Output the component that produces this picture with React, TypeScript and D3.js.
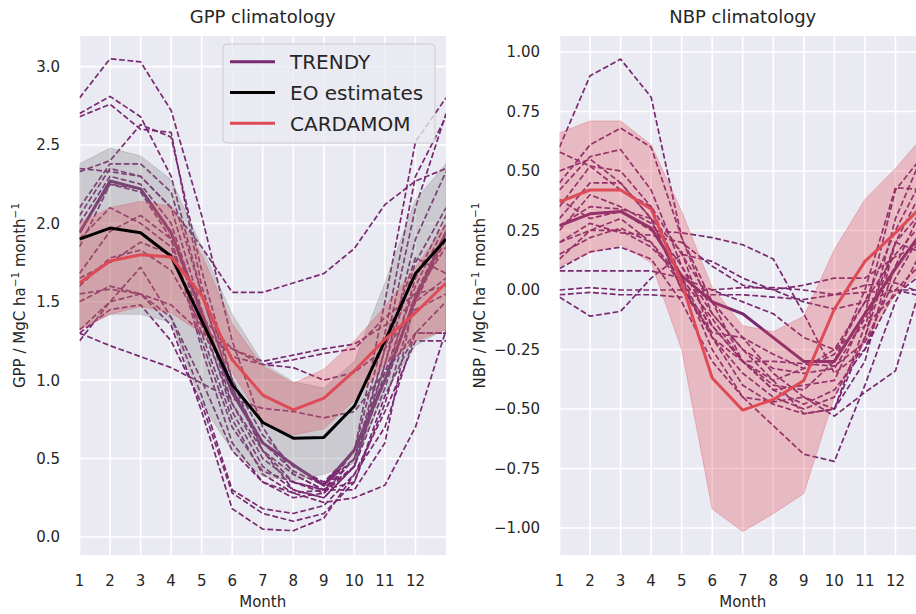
import React from 'react';
import * as d3 from 'd3';

// ---------- data ----------
const months = [1, 2, 3, 4, 5, 6, 7, 8, 9, 10, 11, 12];
const gppTicks = [0, 0.5, 1.0, 1.5, 2.0, 2.5, 3.0];
const nbpTicks = [-1.0, -0.75, -0.5, -0.25, 0, 0.25, 0.5, 0.75, 1.0];

// GPP climatology
const gppEO = [1.90, 1.97, 1.94, 1.79, 1.38, 0.97, 0.73, 0.63, 0.635, 0.835, 1.25, 1.68];
const gppEOLow = [1.33, 1.42, 1.42, 1.37, 0.85, 0.55, 0.385, 0.36, 0.40, 0.47, 0.92, 1.22];
const gppEOHigh = [2.38, 2.48, 2.43, 2.28, 1.85, 1.42, 1.11, 0.99, 0.95, 1.12, 1.62, 2.15];
const gppCardamom = [1.62, 1.76, 1.80, 1.785, 1.54, 1.13, 0.905, 0.81, 0.885, 1.06, 1.26, 1.43];
const gppCardamomLow = [1.32, 1.42, 1.47, 1.43, 1.30, 1.05, 0.73, 0.65, 0.69, 0.87, 1.10, 1.25];
const gppCardamomHigh = [2.00, 2.10, 2.14, 2.11, 1.80, 1.36, 1.09, 0.98, 1.07, 1.25, 1.47, 1.72];
const gppTrendyMean = [1.94, 2.27, 2.22, 1.94, 1.43, 0.92, 0.60, 0.46, 0.33, 0.555, 1.00, 1.52];
const gppTrendyMembers = [
  [2.80, 3.05, 3.03, 2.72, 2.05, 1.25, 0.70, 0.40, 0.30, 0.55, 1.50, 2.52],
  [2.70, 2.81, 2.68, 2.30, 1.55, 0.95, 0.60, 0.42, 0.33, 0.50, 1.20, 2.10],
  [2.68, 2.76, 2.60, 2.58, 1.60, 1.00, 0.65, 0.45, 0.35, 0.55, 1.30, 2.30],
  [2.35, 2.33, 2.30, 2.10, 1.85, 1.56, 1.56, 1.62, 1.68, 1.84, 2.12, 2.27],
  [2.33, 2.40, 2.63, 2.55, 1.70, 1.00, 0.55, 0.30, 0.25, 0.45, 1.10, 1.90],
  [2.10, 2.38, 2.38, 2.20, 1.55, 0.95, 0.55, 0.40, 0.30, 0.50, 1.10, 1.75],
  [2.05, 2.35, 2.30, 2.10, 1.45, 0.85, 0.50, 0.35, 0.28, 0.50, 1.00, 1.65],
  [2.00, 2.30, 2.25, 2.00, 1.40, 0.80, 0.45, 0.30, 0.25, 0.45, 1.05, 1.60],
  [1.90, 2.10, 2.00, 1.85, 1.30, 0.75, 0.40, 0.28, 0.30, 0.35, 0.85, 1.50],
  [1.85, 2.25, 2.20, 1.90, 1.25, 0.70, 0.42, 0.35, 0.30, 0.30, 0.60, 1.55],
  [1.65, 1.75, 1.88, 1.80, 1.40, 1.20, 1.12, 1.16, 1.20, 1.23, 1.35, 1.50],
  [1.60, 1.78, 1.83, 1.70, 1.35, 1.15, 1.10, 1.13, 1.17, 1.20, 1.40, 1.55],
  [1.55, 1.58, 1.55, 1.48, 1.30, 1.20, 1.10, 1.08, 1.00, 1.05, 1.20, 1.45],
  [1.30, 1.45, 1.48, 1.25, 0.85, 0.28, 0.15, 0.10, 0.15, 0.35, 0.90, 1.30],
  [1.25, 1.50, 1.72, 1.40, 0.90, 0.30, 0.18, 0.15, 0.20, 0.40, 0.80, 1.25],
  [1.30, 1.22, 1.15, 1.08, 0.98, 0.88, 0.82, 0.80, 0.76, 0.80, 1.05, 1.30],
  [1.50, 1.60, 1.55, 1.35, 0.80, 0.18, 0.05, 0.04, 0.12, 0.40, 0.70, 1.30],
  [1.32, 1.50, 1.55, 1.40, 1.00, 0.55, 0.35, 0.28, 0.22, 0.25, 0.33, 0.70],
  [1.95, 2.25, 2.22, 1.95, 1.35, 0.85, 0.55, 0.35, 0.30, 0.45, 0.95, 1.55],
  [1.68, 1.95, 2.05, 1.90, 1.20, 0.60, 0.35, 0.25, 0.28, 0.45, 1.20, 1.78],
];

// NBP climatology
const nbpCardamom = [0.37, 0.42, 0.42, 0.34, 0.03, -0.37, -0.505, -0.46, -0.38, -0.08, 0.12, 0.24];
const nbpCardamomLow = [0.10, 0.157, 0.19, 0.115, -0.25, -0.92, -1.015, -0.94, -0.855, -0.45, -0.22, -0.02];
const nbpCardamomHigh = [0.66, 0.71, 0.71, 0.61, 0.33, 0.01, -0.15, -0.175, -0.11, 0.17, 0.38, 0.51];
const nbpTrendyMean = [0.27, 0.32, 0.33, 0.26, 0.06, -0.05, -0.10, -0.20, -0.30, -0.30, -0.10, 0.09];
const nbpTrendyMembers = [
  [0.60, 0.90, 0.97, 0.81, 0.22, -0.05, -0.20, -0.35, -0.45, -0.50, -0.20, 0.30],
  [0.45, 0.61, 0.68, 0.60, 0.22, -0.10, -0.25, -0.38, -0.52, -0.50, -0.30, 0.20],
  [0.58, 0.52, 0.42, 0.35, 0.15, -0.05, -0.30, -0.42, -0.40, -0.38, -0.10, 0.42],
  [0.42, 0.56, 0.59, 0.42, 0.10, -0.15, -0.30, -0.40, -0.42, -0.30, 0.00, 0.43],
  [0.35, 0.52, 0.50, 0.35, 0.05, -0.20, -0.35, -0.45, -0.50, -0.45, -0.20, 0.20],
  [0.30, 0.45, 0.45, 0.30, 0.00, -0.15, -0.30, -0.38, -0.33, -0.25, -0.05, 0.15],
  [0.25, 0.40, 0.35, 0.28, 0.10, -0.10, -0.25, -0.33, -0.35, -0.33, -0.12, 0.10],
  [0.38, 0.30, 0.33, 0.25, 0.24, 0.22, 0.19, 0.13, -0.10, -0.35, -0.25, 0.10],
  [0.20, 0.25, 0.30, 0.20, 0.05, -0.25, -0.45, -0.57, -0.69, -0.72, -0.40, -0.05],
  [0.15, 0.22, 0.26, 0.20, 0.02, -0.20, -0.40, -0.48, -0.52, -0.50, -0.15, 0.20],
  [0.09, 0.16, 0.18, 0.13, -0.05, -0.30, -0.45, -0.47, -0.45, -0.53, -0.43, -0.34],
  [0.08, 0.08, 0.08, 0.08, 0.05, 0.00, -0.05, -0.10, -0.20, -0.25, -0.15, -0.02],
  [0.00, 0.01, 0.00, 0.00, 0.00, 0.00, 0.01, 0.01, 0.00, -0.02, -0.01, 0.00],
  [-0.02, -0.01, -0.02, -0.02, -0.03, -0.02, -0.02, -0.03, -0.04, -0.02, 0.02, 0.03],
  [-0.03, -0.11, -0.09, 0.05, 0.15, 0.12, 0.05, 0.00, -0.05, -0.08, -0.05, 0.00],
  [0.13, 0.25, 0.25, 0.18, 0.05, -0.12, -0.30, -0.42, -0.48, -0.42, -0.25, 0.00],
  [0.27, 0.35, 0.34, 0.30, 0.16, -0.20, -0.30, -0.30, -0.31, -0.32, -0.22, 0.05],
  [0.50, 0.55, 0.45, 0.30, 0.00, -0.18, -0.20, -0.27, -0.33, -0.27, -0.05, 0.25],
  [0.20, 0.28, 0.24, 0.23, 0.20, 0.10, 0.02, 0.00, 0.02, 0.05, 0.05, 0.14],
];

const legendLabels = ['TRENDY', 'EO estimates', 'CARDAMOM'];

// ---------- style ----------
const BG = '#EAEAF2';
const TEXT = '#262626';
const C_TRENDY = '#792970';
const C_EO = '#000000';
const C_CARD = '#DE4A56';
const FONT = 'DejaVu Sans, sans-serif';

const wrap = (a: number[]) => [...a, a[0]];
const xsWrapped = [...months, 13];

type PanelProps = {
  id: string;
  title: string;
  yVar: string;
  left: number;
  right: number;
  top: number;
  bottom: number;
  yDomain: [number, number];
  yTicks: number[];
  fmt: (v: number) => string;
  tickRight: number;
  yLabelX: number;
  members: number[][];
  mean: number[];
  eo?: number[];
  eoLow?: number[];
  eoHigh?: number[];
  card: number[];
  cardLow: number[];
  cardHigh: number[];
  legend?: boolean;
};

function Panel(p: PanelProps) {
  const x = d3.scaleLinear().domain([1, 13]).range([p.left, p.right]);
  const y = d3.scaleLinear().domain(p.yDomain).range([p.bottom, p.top]);
  const line = d3
    .line<number>()
    .x((_, i) => x(xsWrapped[i]))
    .y((d) => y(d));
  const band = (lo: number[], hi: number[]) => {
    const L = wrap(lo);
    const H = wrap(hi);
    return d3
      .area<number>()
      .x((_, i) => x(xsWrapped[i]))
      .y0((_, i) => y(L[i]))
      .y1((_, i) => y(H[i]))(L) as string;
  };
  const cx = (p.left + p.right) / 2;
  const cy = (p.top + p.bottom) / 2;
  const clip = `clip-${p.id}`;
  return (
    <g>
      <defs>
        <clipPath id={clip}>
          <rect x={p.left} y={p.top} width={p.right - p.left} height={p.bottom - p.top} />
        </clipPath>
      </defs>
      <rect x={p.left} y={p.top} width={p.right - p.left} height={p.bottom - p.top} fill={BG} />
      {months.map((m) => (
        <line key={'gx' + m} x1={x(m)} x2={x(m)} y1={p.top} y2={p.bottom} stroke="#fff" strokeWidth={1.6} />
      ))}
      {p.yTicks.map((t) => (
        <line key={'gy' + t} x1={p.left} x2={p.right} y1={y(t)} y2={y(t)} stroke="#fff" strokeWidth={1.6} />
      ))}
      <g clipPath={`url(#${clip})`}>
        {p.members.map((s, i) => (
          <path
            key={'m' + i}
            d={line(wrap(s)) as string}
            fill="none"
            stroke={C_TRENDY}
            strokeWidth={1.7}
            strokeDasharray="5.8 2.6"
            strokeLinejoin="round"
          />
        ))}
        <path d={line(wrap(p.mean)) as string} fill="none" stroke={C_TRENDY} strokeWidth={3} strokeLinejoin="round" />
        {p.eoLow && p.eoHigh && (
          <path d={band(p.eoLow, p.eoHigh)} fill="#808080" fillOpacity={0.3} stroke="#808080" strokeOpacity={0.3} strokeWidth={1} />
        )}
        <path d={band(p.cardLow, p.cardHigh)} fill={C_CARD} fillOpacity={0.3} stroke={C_CARD} strokeOpacity={0.3} strokeWidth={1} />
        {p.eo && (
          <path d={line(wrap(p.eo)) as string} fill="none" stroke={C_EO} strokeWidth={3} strokeLinejoin="round" />
        )}
        <path d={line(wrap(p.card)) as string} fill="none" stroke={C_CARD} strokeWidth={3} strokeLinejoin="round" />
      </g>
      {p.yTicks.map((t) => (
        <text key={'yl' + t} x={p.tickRight} y={y(t)} dy="0.36em" textAnchor="end" fontSize={15} fill={TEXT} fontFamily={FONT}>
          {p.fmt(t)}
        </text>
      ))}
      {months.map((m) => (
        <text key={'xl' + m} x={x(m)} y={586} textAnchor="middle" fontSize={15} fill={TEXT} fontFamily={FONT}>
          {m}
        </text>
      ))}
      <text x={cx} y={607} textAnchor="middle" fontSize={15} fill={TEXT} fontFamily={FONT}>
        Month
      </text>
      <text x={cx} y={23} textAnchor="middle" fontSize={18} fill={TEXT} fontFamily={FONT}>
        {p.title}
      </text>
      <text
        transform={`translate(${p.yLabelX},${cy}) rotate(-90)`}
        textAnchor="middle"
        fontSize={15}
        fill={TEXT}
        fontFamily={FONT}
      >
        {p.yVar} / MgC ha
        <tspan fontSize={10.5} dy={-6}>−1</tspan>
        <tspan dy={6}> month</tspan>
        <tspan fontSize={10.5} dy={-6}>−1</tspan>
      </text>
      {p.legend && (
        <g fontFamily={FONT}>
          <rect x={223} y={44} width={212} height={99} rx={4} fill={BG} fillOpacity={0.8} stroke="#cccccc" strokeWidth={1} />
          {legendLabels.map((lab, i) => {
            const ly = 61.7 + i * 30.8;
            const col = [C_TRENDY, C_EO, C_CARD][i];
            return (
              <g key={lab}>
                <line x1={230} x2={275} y1={ly} y2={ly} stroke={col} strokeWidth={3} />
                <text x={290} y={ly + 7.3} fontSize={20} fill={TEXT}>
                  {lab}
                </text>
              </g>
            );
          })}
        </g>
      )}
    </g>
  );
}

export default function App() {
  return (
    <svg
      width={916}
      height={614}
      style={{ position: 'absolute', left: 0, top: 0, background: '#fff' }}
      xmlns="http://www.w3.org/2000/svg"
    >
      <rect x={0} y={0} width={916} height={614} fill="#fff" />
      <Panel
        id="gpp"
        title="GPP climatology"
        yVar="GPP"
        left={79.5}
        right={446}
        top={36}
        bottom={555}
        yDomain={[-0.115, 3.195]}
        yTicks={gppTicks}
        fmt={d3.format('.1f')}
        tickRight={60}
        yLabelX={25}
        members={gppTrendyMembers}
        mean={gppTrendyMean}
        eo={gppEO}
        eoLow={gppEOLow}
        eoHigh={gppEOHigh}
        card={gppCardamom}
        cardLow={gppCardamomLow}
        cardHigh={gppCardamomHigh}
        legend
      />
      <Panel
        id="nbp"
        title="NBP climatology"
        yVar="NBP"
        left={559.5}
        right={926}
        top={36}
        bottom={555}
        yDomain={[-1.1134, 1.067]}
        yTicks={nbpTicks}
        fmt={d3.format('.2f')}
        tickRight={540}
        yLabelX={485}
        members={nbpTrendyMembers}
        mean={nbpTrendyMean}
        card={nbpCardamom}
        cardLow={nbpCardamomLow}
        cardHigh={nbpCardamomHigh}
      />
    </svg>
  );
}
